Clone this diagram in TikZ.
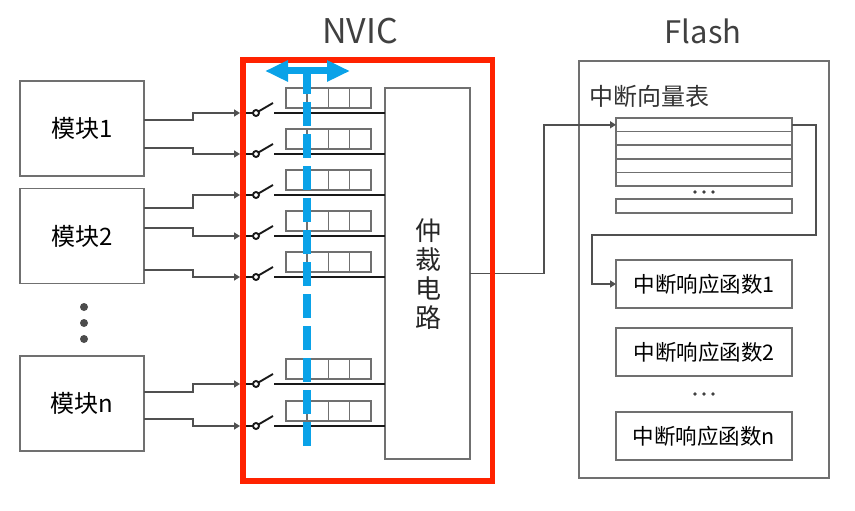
\documentclass[tikz,border=0pt]{standalone}
\usepackage{fontspec}
\setmainfont{Noto Sans CJK SC}
\usetikzlibrary{arrows.meta}
\definecolor{wirecol}{HTML}{505050}
\definecolor{boxcol}{HTML}{707070}
\definecolor{framered}{HTML}{FF2200}
\definecolor{scanblue}{HTML}{0AA2E8}
\tikzset{
	box/.style = {draw = boxcol, line width = 1.5pt, fill = white, inner sep = 0pt, outer sep = 0pt},
	modbox/.style = {box, minimum width = 124pt, minimum height = 95pt, font = \fontsize{24}{28}\selectfont},
	cell/.style = {box, minimum width = 21.25pt, minimum height = 20pt},
	vecrow/.style = {box, minimum width = 176pt, minimum height = 13.6pt},
	funcbox/.style = {box, minimum width = 176pt, minimum height = 48pt, font = \fontsize{21.5}{25}\selectfont},
	wire/.style = {draw = wirecol, line width = 1.9pt},
	wirearrow/.style = {wire, -{Triangle[length = 6pt, width = 7pt]}},
	bus/.style = {draw = black!90, line width = 1.9pt}
}
\begin{document}
\begin{tikzpicture}[x = 1pt, y = -1pt]
	\useasboundingbox (0,0) rectangle (855,511);
	\node[anchor = center, font = \fontsize{34}{38}\selectfont, text = black!75] (nvictitle) at (360,31) {NVIC};
	\node[anchor = center, font = \fontsize{31}{35}\selectfont, text = black!75] (flashtitle) at (703,31) {Flash};

	\node[modbox] (mod1) at (82,128.5) {模块1};
	\node[modbox] (mod2) at (82,236) {模块2};
	\node[modbox] (modn) at (82,403.5) {模块n};
	\foreach \y in {307,323,339}
		\fill[black!70] (84,\y) circle (4);

	% arbiter and the queues in front of it
	\node[box, minimum width = 85pt, minimum height = 371pt] (arb) at (427.5,273.5) {};
	\node[align = center, font = \fontsize{26}{29}\selectfont, text = black!85] (arbtext) at (428,274) {仲\\裁\\电\\路};
	\coordinate (bend) at (193,0);
	\foreach \n/\y/\ym/\my in {1/113/120/mod1, 2/154/148/mod1, 3/195/208/mod2, 4/236/228/mod2, 5/277/270/mod2, 6/384/392/modn, 7/426/419/modn} {
		\coordinate (out\n) at (\my.east |- 0,\ym);
		\coordinate (sw\n) at (240,\y);
		\draw[wirearrow] (out\n) -- (out\n -| bend) -- (bend |- sw\n) -- (sw\n);
		\draw[bus] (246,\y) -- (253,\y);
		\draw[bus] (256,\y) ++(2.6,-1.6) -- ++(14.4,-8.4);
		\draw[bus, fill = white] (256,\y) circle (3);
		\coordinate (busin\n) at (274,\y);
		\draw[bus] (busin\n) -- (busin\n -| arb.west);
		\foreach \c in {0,1,2,3}
			\node[cell] (q\n-\c) at (296.6+21.25*\c,\y-15) {};
	}

	% vector table
	\node[box, minimum width = 250pt, minimum height = 417pt] (flash) at (704,269.5) {};
	\node[anchor = west, font = \fontsize{24}{28}\selectfont, text = black!80] (vectitle) at (585.5,96) {中断向量表};
	\foreach \i in {1,...,5}
		\node[vecrow] (vec\i) at (704,124.8+13.6*\i-13.6) {};
	\foreach \x in {695,704,713}
		\fill[black!75] (\x,192) circle (1.9);
	\node[vecrow] (veclast) at (704,206) {};
	\node[funcbox] (func1) at (704,284) {中断响应函数1};
	\node[funcbox] (func2) at (704,352) {中断响应函数2};
	\foreach \x in {695,704,713}
		\fill[black!75] (\x,394) circle (1.9);
	\node[funcbox] (funcn) at (704,436) {中断响应函数n};

	\coordinate (vecup) at (544,0);
	\draw[wirearrow] (arb.east) -- (arb.east -| vecup) -- (vecup |- vec1.west) -- (vec1.west);
	\coordinate (turnr) at (816,235);
	\coordinate (turnl) at (592,235);
	\draw[wirearrow] (vec1.east) -- (vec1.east -| turnr) -- (turnr) -- (turnl) -- (turnl |- func1.west) -- (func1.west);

	% frame and scan direction
	\draw[framered, line width = 5.5pt] (243,60) rectangle (492.5,481);
	\draw[scanblue, line width = 8pt, dash pattern = on 24pt off 8pt] (307,70) -- (307,446);
	\draw[scanblue, line width = 7pt, {Triangle[length = 23pt, width = 20pt]}-{Triangle[length = 23pt, width = 20pt]}] (265,71) -- (350,71);
\end{tikzpicture}
\end{document}
